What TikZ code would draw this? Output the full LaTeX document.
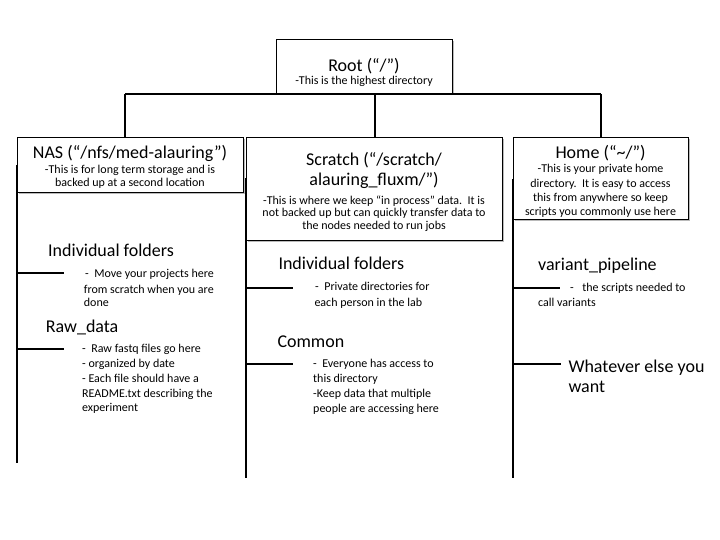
\documentclass[tikz,border=0pt]{standalone}
\usepackage{fontspec}
\setmainfont{Carlito}
\usetikzlibrary{shadows}
\begin{document}
\begin{tikzpicture}[x=1pt,y=-1pt,
  dirbox/.style={draw, line width=0.8pt, fill=white, inner sep=0pt, anchor=north west,
    drop shadow={shadow xshift=1.2pt, shadow yshift=-1.2pt, fill=black!45, opacity=0.6}},
  ttl/.style={font=\fontsize{18}{21}\selectfont, anchor=base, inner sep=0pt},
  sml/.style={font=\fontsize{12}{14}\selectfont, anchor=base, inner sep=0pt},
  ttlL/.style={ttl, anchor=base west},
  smlL/.style={sml, anchor=base west},
  bar/.style={line width=2pt},
  spine/.style={line width=2pt},
  branch/.style={line width=2pt}]
\useasboundingbox (0,0) rectangle (720,540);
\fill[white] (0,0) rectangle (720,540);

% connectors from root
\coordinate (barL) at (125,94);
\coordinate (barM) at (375,94);
\coordinate (barR) at (601,94);

% boxes
\node[dirbox, minimum width=176pt, minimum height=54pt] (root) at (276,39) {};
\node[dirbox, minimum width=226pt, minimum height=55pt] (nas) at (17,137) {};
\node[dirbox, minimum width=256pt, minimum height=103pt] (scratch) at (246,137) {};
\node[dirbox, minimum width=175pt, minimum height=82pt] (home) at (513,137) {};

\draw[bar] (barL) -- (barR);
\draw[bar] (barL) -- (barL |- nas.north);
\draw[bar] (barM) -- (barM |- scratch.north);
\draw[bar] (barR) -- (barR |- home.north);

% box texts
\node[ttl] (rootT) at (364,71.5) {Root (“/”)};
\node[sml] (rootS) at (364,85) {-This is the highest directory};

\node[ttl] (nasT) at (130,158.5) {NAS (“/nfs/med-alauring”)};
\node[sml] (nasS1) at (130,173.5) {-This is for long term storage and is};
\node[sml] (nasS2) at (130,186.5) {backed up at a second location};

\node[ttl] (scrT1) at (374,166) {Scratch (“/scratch/};
\node[ttl] (scrT2) at (374,186) {alauring\_fluxm/”)};
\node[sml] (scrS1) at (374,204.5) {-This is where we keep “in process” data.\ \ It is};
\node[sml] (scrS2) at (374,216.8) {not backed up but can quickly transfer data to};
\node[sml] (scrS3) at (374,229.3) {the nodes needed to run jobs};

\node[ttl] (homeT) at (600.5,158.3) {Home (“\textasciitilde/”)};
\node[sml] (homeS1) at (600.5,173) {-This is your private home};
\node[sml] (homeS2) at (600.5,187.3) {directory.\ \ It is easy to access};
\node[sml] (homeS3) at (600.5,201.5) {this from anywhere so keep};
\node[sml] (homeS4) at (600.5,215.5) {scripts you commonly use here};

% spines
\coordinate (lsTop) at (17,165);   \coordinate (lsBot) at (17,463);
\coordinate (msTop) at (246,178);  \coordinate (msBot) at (246,478);
\coordinate (rsTop) at (513,179);  \coordinate (rsBot) at (513,478);
\draw[spine] (lsTop) -- (lsBot);
\draw[spine] (msTop) -- (msBot);
\draw[spine] (rsTop) -- (rsBot);

% branches
\coordinate (lb1) at (64,273.3);  \coordinate (lb2) at (64,349);
\coordinate (mb1) at (293,288);   \coordinate (mb2) at (293,364);
\coordinate (rb1) at (560,288);   \coordinate (rb2) at (561,364);
\draw[branch] (lsTop |- lb1) -- (lb1);
\draw[branch] (lsTop |- lb2) -- (lb2);
\draw[branch] (msTop |- mb1) -- (mb1);
\draw[branch] (msTop |- mb2) -- (mb2);
\draw[branch] (rsTop |- rb1) -- (rb1);
\draw[branch] (rsTop |- rb2) -- (rb2);

% left column texts
\node[ttlL] (lIF) at (48,256.3) {Individual folders};
\node[smlL] (lIF1) at (85,277.3) {-\ \ Move your projects here};
\node[smlL] (lIF2) at (83.7,293.3) {from scratch when you are};
\node[smlL] (lIF3) at (83.7,306.7) {done};
\node[ttlL] (lRD) at (45.7,332.3) {Raw\_data};
\node[smlL] (lRD1) at (82,352.7) {-\ \ Raw fastq files go here};
\node[smlL] (lRD2) at (82,367.7) {- organized by date};
\node[smlL] (lRD3) at (82,382.7) {- Each file should have a};
\node[smlL] (lRD4) at (82,397.7) {README.txt describing the};
\node[smlL] (lRD5) at (82,411.7) {experiment};

% middle column texts
\node[ttlL] (mIF) at (278.3,269.3) {Individual folders};
\node[smlL] (mIF1) at (315,290.7) {-\ \ Private directories for};
\node[smlL] (mIF2) at (314.3,306) {each person in the lab};
\node[ttlL] (mCO) at (277.3,347.3) {Common};
\node[smlL] (mCO1) at (313,367.7) {-\ \ Everyone has access to};
\node[smlL] (mCO2) at (313,382.7) {this directory};
\node[smlL] (mCO3) at (313,397.3) {-Keep data that multiple};
\node[smlL] (mCO4) at (313,412.3) {people are accessing here};

% right column texts
\node[ttlL] (rVP) at (538,270) {variant\_pipeline};
\node[smlL] (rVP1) at (570,291.7) {-\hspace{8.5pt}the scripts needed to};
\node[smlL] (rVP2) at (538,306.7) {call variants};
\node[ttlL] (rWE1) at (568.3,372.7) {Whatever else you};
\node[ttlL] (rWE2) at (568.3,392.7) {want};
\end{tikzpicture}
\end{document}
